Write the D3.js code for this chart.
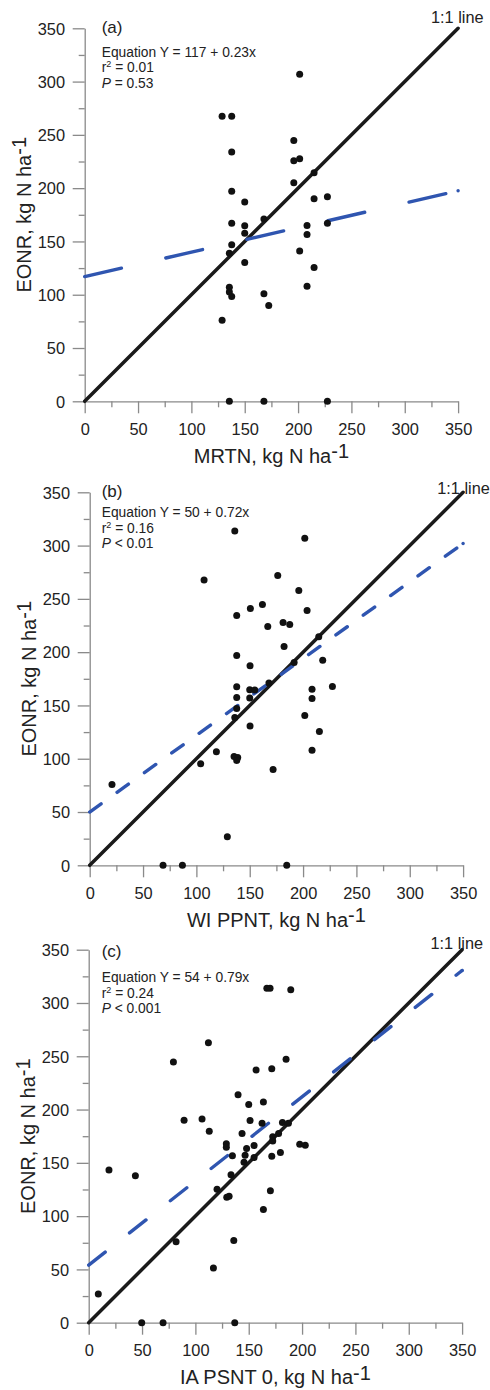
<!DOCTYPE html>
<html><head><meta charset="utf-8">
<script src="https://cdn.jsdelivr.net/npm/d3@7"></script>
<style>body{margin:0;background:#fff}svg{display:block}text{font-family:"Liberation Sans",Arial,sans-serif}</style>
</head><body><svg id="c" width="490" height="1390"></svg>
<script>
// ---- data ----
const majorTicks = [0, 50, 100, 150, 200, 250, 300, 350];
const minorTicks = [25, 75, 125, 175, 225, 275, 325];
const panelLabels = ["(a)", "(b)", "(c)"];
const xTitles = ["MRTN, kg N ha", "WI PPNT, kg N ha", "IA PSNT 0, kg N ha"];
const yTitle = "EONR, kg N ha";
const unitSup = "-1";
const eqTexts = ["Equation Y = 117 + 0.23x", "Equation Y = 50 + 0.72x", "Equation Y = 54 + 0.79x"];
const r2Texts = [" = 0.01", " = 0.16", " = 0.24"];
const pTexts = [" = 0.53", " < 0.01", " < 0.001"];
const intercepts = [117, 50, 54];
const slopes = [0.23, 0.72, 0.79];
const oneToOneLabel = "1:1 line";

const mrtnX = [128.8,137.8,137.8,137.8,137.8,137.8,135.6,135.6,135.6,137.8,128.8,135.6,150,150,150,150,168,168,172.5,168,201.5,196,196,201.5,196,215,215,227.5,227.5,208.4,208.4,201.5,215,208.4,227.5];
const mrtnY = [267.5,267.5,234,197,167,147,139,107,102.5,98.4,76,0,187,164.7,157.8,130.3,171,101,90,0,307,244.7,225.6,227.5,205,214.4,190,192,167,165,156.6,141,125.6,108,0];

const wiX = [136,201.6,107.2,176.25,196,137.8,150.6,161.9,203.75,166.9,181.25,187.5,182.2,214.7,137.8,150.3,191.6,218.4,137.8,150,154.7,168,227.5,208.4,137.8,150,208.4,137.8,136,201.6,150.3,215.3,118.75,135.3,138.75,137.8,104,208.4,171.9,20.9,129,68.75,86.9,184.7];
const wiY = [313.75,307,267.8,272,257.8,234.4,241,244.7,239,224,227.8,226,205.3,214.4,196.9,187.2,190.3,192.5,167.5,164.7,164.4,171,167.8,165.3,157.5,156.9,156.6,147.2,138.75,140.6,130.6,125.6,106.6,102.2,101.25,98.4,95.3,108,90,75.9,26.9,0,0,0];

const iaX = [167,170,189.4,112.2,79.4,185,156.9,171.6,140,150,163.75,89.4,106.25,151.25,162.5,181.6,187.2,113,143.75,178,172.5,172.5,129,129,155,148,146.6,134.7,155,171.6,179.7,145.6,197.8,203,133.4,19,43.75,120.3,129.4,131.6,170.3,163.75,81.9,136,116.9,9,49.7,69.7,136.9];
const iaY = [313.75,313.75,312.5,262.8,244.7,247.2,237.2,238.4,214,204.7,207.2,190,191.25,189.7,187.2,187.8,187.2,179.7,177.5,177.5,174.4,170.6,167.8,164.7,166.25,163.4,157.2,156.6,155,156.25,159.7,150.6,167.5,166.6,138.75,143.4,137.8,125.3,117.8,118.75,123.75,106.25,75.9,77.2,51.25,26.9,0,0,0];

const xSeries = [mrtnX, wiX, iaX];
const ySeries = [mrtnY, wiY, iaY];

// ---- layout (positions/styles only) ----
const W = 373.4, H = 373;
const layout = [
  {left: 84.7, top: 28.3, dash: "37.7,45.5", oneX: 483.5, oneY: 22.5, labY: 33, eqY: 56.5},
  {left: 89.7, top: 492.3, dash: "14,19.7", oneX: 489.8, oneY: 493.5, labY: 497.3, eqY: 517.3},
  {left: 88.7, top: 949.7, dash: "21,31", oneX: 483, oneY: 948.5, labY: 957.3, eqY: 982.3}
];
const textX = 101.7;
const axisColor = "#8a8a8a", textColor = "#222", blue = "#2f55b0";

const svg = d3.select("#c");

layout.forEach((L, i) => {
  const x = d3.scaleLinear().domain([0, 350]).range([L.left, L.left + W]);
  const y = d3.scaleLinear().domain([0, 350]).range([L.top + H, L.top]);
  const g = svg.append("g");

  // minor ticks
  g.append("g").attr("transform", `translate(0,${L.top + H})`)
    .call(d3.axisBottom(x).tickValues(minorTicks).tickSize(6).tickFormat(""))
    .call(a => a.select(".domain").remove());
  g.append("g").attr("transform", `translate(${L.left},0)`)
    .call(d3.axisLeft(y).tickValues(minorTicks).tickSize(6).tickFormat(""))
    .call(a => a.select(".domain").remove());
  // major axes
  const xa = g.append("g").attr("transform", `translate(0,${L.top + H})`)
    .call(d3.axisBottom(x).tickValues(majorTicks).tickSize(12).tickSizeOuter(0).tickPadding(10.1));
  const ya = g.append("g").attr("transform", `translate(${L.left},0)`)
    .call(d3.axisLeft(y).tickValues(majorTicks).tickSize(12).tickSizeOuter(0).tickPadding(7.7));
  g.selectAll(".domain, .tick line").attr("stroke", axisColor).attr("stroke-width", 1.3);
  [xa, ya].forEach(a => a.selectAll("text").attr("font-size", 16.4).attr("fill", textColor)
    .attr("font-family", '"Liberation Sans",Arial,sans-serif'));
  ya.selectAll("text").attr("dy", "0.35em");

  // 1:1 line
  g.append("line").attr("x1", x(0)).attr("y1", y(0)).attr("x2", x(350)).attr("y2", y(350))
    .attr("stroke", "#1a1a1a").attr("stroke-width", 3.5).attr("stroke-linecap", "round");
  // regression line
  const reg = d3.line().x(d => x(d)).y(d => y(intercepts[i] + slopes[i] * d));
  g.append("path").attr("d", reg([0, 350])).attr("fill", "none")
    .attr("stroke", blue).attr("stroke-width", 3.4).attr("stroke-linecap", "round")
    .attr("stroke-dasharray", L.dash);
  g.append("circle").attr("cx", x(350)).attr("cy", y(intercepts[i] + slopes[i] * 350))
    .attr("r", 1.7).attr("fill", blue);

  // points
  g.selectAll("circle.pt").data(xSeries[i].map((v, k) => [v, ySeries[i][k]])).enter()
    .append("circle").attr("class", "pt")
    .attr("cx", d => x(d[0])).attr("cy", d => y(d[1])).attr("r", 3.5).attr("fill", "#111");

  // texts
  g.append("text").attr("x", textX).attr("y", L.labY).attr("font-size", 17).attr("fill", textColor).text(panelLabels[i]);
  g.append("text").attr("x", textX).attr("y", L.eqY).attr("font-size", 13.8).attr("fill", textColor).text(eqTexts[i]);
  const r2 = g.append("text").attr("x", textX).attr("y", L.eqY + 15.5).attr("font-size", 13.8).attr("fill", textColor);
  r2.append("tspan").text("r");
  r2.append("tspan").attr("font-size", 9).attr("dy", -5).text("2");
  r2.append("tspan").attr("dy", 5).text(r2Texts[i]);
  const p = g.append("text").attr("x", textX).attr("y", L.eqY + 31).attr("font-size", 13.8).attr("fill", textColor);
  p.append("tspan").attr("font-style", "italic").text("P");
  p.append("tspan").text(pTexts[i]);
  g.append("text").attr("x", L.oneX).attr("y", L.oneY).attr("text-anchor", "end")
    .attr("font-size", 16.3).attr("fill", textColor).text(oneToOneLabel);

  // axis titles
  const xt = g.append("text").attr("x", L.left + W / 2).attr("y", L.top + H + 61.5)
    .attr("text-anchor", "middle").attr("font-size", 20).attr("fill", textColor);
  xt.append("tspan").text(xTitles[i]);
  xt.append("tspan").attr("dy", -4.5).text(unitSup);
  const yt = g.append("text").attr("transform", `translate(${L.left - 54},${L.top + H / 2}) rotate(-90)`)
    .attr("text-anchor", "middle").attr("font-size", 20).attr("fill", textColor);
  yt.append("tspan").text(yTitle);
  yt.append("tspan").attr("dy", -4.5).text(unitSup);
});
</script></body></html>
